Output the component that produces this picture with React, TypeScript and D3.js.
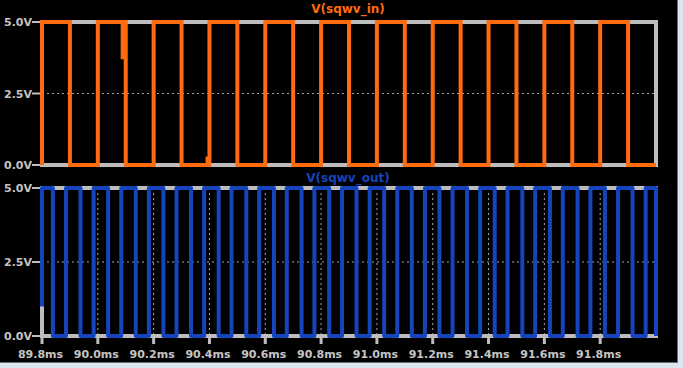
import React from "react";
import * as d3 from "d3";

// ---- data (times in ms, values in V) ----
const xTickValues = [89.8, 90.0, 90.2, 90.4, 90.6, 90.8, 91.0, 91.2, 91.4, 91.6, 91.8];
const xTickLabels = ["89.8ms", "90.0ms", "90.2ms", "90.4ms", "90.6ms", "90.8ms", "91.0ms", "91.2ms", "91.4ms", "91.6ms", "91.8ms"];
const yTickValues = [0, 2.5, 5];
const yTickLabels = ["0.0V", "2.5V", "5.0V"];

// V(sqwv_in): sample points
const inTimes = [
  89.8, 89.8, 89.9, 89.9, 90.0, 90.0, 90.089, 90.089, 90.089, 90.1, 90.1, 90.2, 90.2, 90.3, 90.3,
  90.393, 90.393, 90.393, 90.4, 90.4, 90.5, 90.5, 90.6, 90.6, 90.7, 90.7, 90.8, 90.8, 90.9, 90.9,
  91.0, 91.0, 91.1, 91.1, 91.2, 91.2, 91.3, 91.3, 91.4, 91.4, 91.5, 91.5, 91.6, 91.6,
  91.7, 91.7, 91.8, 91.8, 91.9, 91.9, 92.0,
];
const inValues = [
  0, 5, 5, 0, 0, 5, 5, 3.7, 5, 5, 0, 0, 5, 5, 0,
  0, 0.3, 0, 0, 5, 5, 0, 0, 5, 5, 0, 0, 5, 5, 0,
  0, 5, 5, 0, 0, 5, 5, 0, 0, 5, 5, 0, 0, 5,
  5, 0, 0, 5, 5, 0, 0,
];

// V(sqwv_out): falling and rising edge times
const outFallTimes = [
  89.839, 89.938, 90.037, 90.136, 90.235, 90.334, 90.433, 90.532, 90.631, 90.730, 90.829,
  90.927, 91.026, 91.125, 91.224, 91.323, 91.422, 91.521, 91.620, 91.719, 91.817, 91.916,
];
const outRiseTimes = [
  89.886, 89.985, 90.084, 90.183, 90.282, 90.381, 90.479, 90.578, 90.677, 90.776, 90.875,
  90.974, 91.073, 91.172, 91.271, 91.370, 91.468, 91.567, 91.666, 91.765, 91.864, 91.963,
];
const outStart = { t: 89.8, v: 1.0 };
const outEnd = { t: 92.0, v: 0 };
const outHigh = 5;
const outLow = 0;

const W = 683;
const H = 368;

export default function App() {
  const x = d3.scaleLinear().domain([89.8, 92.0]).range([42, 656]);
  const yTop = d3.scaleLinear().domain([0, 5]).range([165, 22]);
  const yBot = d3.scaleLinear().domain([0, 5]).range([336, 188]);

  const inPts: [number, number][] = inTimes.map((t, i) => [t, inValues[i]]);

  const outPts: [number, number][] = [];
  outPts.push([outStart.t, outStart.v]);
  outPts.push([outStart.t, outHigh]);
  outFallTimes.forEach((f, i) => {
    outPts.push([f, outHigh]);
    outPts.push([f, outLow]);
    const r = outRiseTimes[i];
    outPts.push([r, outLow]);
    outPts.push([r, outHigh]);
  });
  outPts.push([outEnd.t, outHigh]);
  outPts.push([outEnd.t, outEnd.v]);

  const lineTop = d3.line<[number, number]>().x((d) => x(d[0])).y((d) => yTop(d[1]));
  const lineBot = d3.line<[number, number]>().x((d) => x(d[0])).y((d) => yBot(d[1]));

  const grid = "#a8a8a8";
  const frame = "#bdbdbd";
  const label = "#c4c4c4";
  const orange = "#ff6b0f";
  const blue = "#1544bc";
  const font = "DejaVu Sans, Verdana, sans-serif";

  const panels = [
    { y: yTop, title: "V(sqwv_in)", color: orange, titleY: 13 },
    { y: yBot, title: "V(sqwv_out)", color: blue, titleY: 182 },
  ];

  return (
    <svg
      width={W}
      height={H}
      viewBox={`0 0 ${W} ${H}`}
      style={{ position: "absolute", left: 0, top: 0, display: "block" }}
    >
      <rect x={0} y={0} width={W} height={H} fill="#000" />
      {/* window border */}
      <rect x={678} y={0} width={5} height={H} fill="#dce6f0" />
      <rect x={0} y={363} width={W} height={5} fill="#dce6f0" />
      <line x1={677.5} y1={0} x2={677.5} y2={363} stroke="#6a7078" strokeWidth={1} />
      <line x1={0} y1={362.5} x2={678} y2={362.5} stroke="#6a7078" strokeWidth={1} />

      {panels.map((p, pi) => {
        const [r0, r1] = x.range();
        const yb = p.y(0);
        const yt = p.y(5);
        return (
          <g key={pi}>
            {/* dashed grid */}
            {xTickValues.slice(1).map((t, i) => (
              <line key={"vx" + i} x1={x(t)} x2={x(t)} y1={yt} y2={yb} stroke={grid} strokeWidth={1} strokeDasharray="2,3" />
            ))}
            <line x1={r0} x2={r1} y1={p.y(2.5)} y2={p.y(2.5)} stroke={grid} strokeWidth={1} strokeDasharray="2,3" />
            {/* frame */}
            <rect x={r0} y={yt} width={r1 - r0} height={yb - yt} fill="none" stroke={frame} strokeWidth={4} />
            {/* y ticks */}
            {yTickValues.map((v, i) => (
              <g key={"yt" + i}>
                <line x1={32} x2={42} y1={p.y(v)} y2={p.y(v)} stroke={frame} strokeWidth={2} />
                <text x={32} y={p.y(v) + 4} textAnchor="end" fill={label} fontFamily={font} fontWeight="bold" fontSize={11}>
                  {yTickLabels[i]}
                </text>
              </g>
            ))}
            <text x={348} y={p.titleY} textAnchor="middle" fill={p.color} fontFamily={font} fontWeight="bold" fontSize={12}>
              {p.title}
            </text>
          </g>
        );
      })}

      {/* x ticks */}
      {xTickValues.map((t, i) => (
        <g key={"xt" + i}>
          <line x1={x(t)} x2={x(t)} y1={336} y2={344} stroke={frame} strokeWidth={3} />
          <text x={x(t) - 1.5} y={358} textAnchor="middle" fill={label} fontFamily={font} fontWeight="bold" fontSize={11}>
            {xTickLabels[i]}
          </text>
        </g>
      ))}

      {/* traces */}
      <path d={lineTop(inPts) || ""} fill="none" stroke={orange} strokeWidth={4} strokeLinejoin="miter" />
      <path d={lineBot(outPts) || ""} fill="none" stroke={blue} strokeWidth={4} strokeLinejoin="round" />
    </svg>
  );
}
